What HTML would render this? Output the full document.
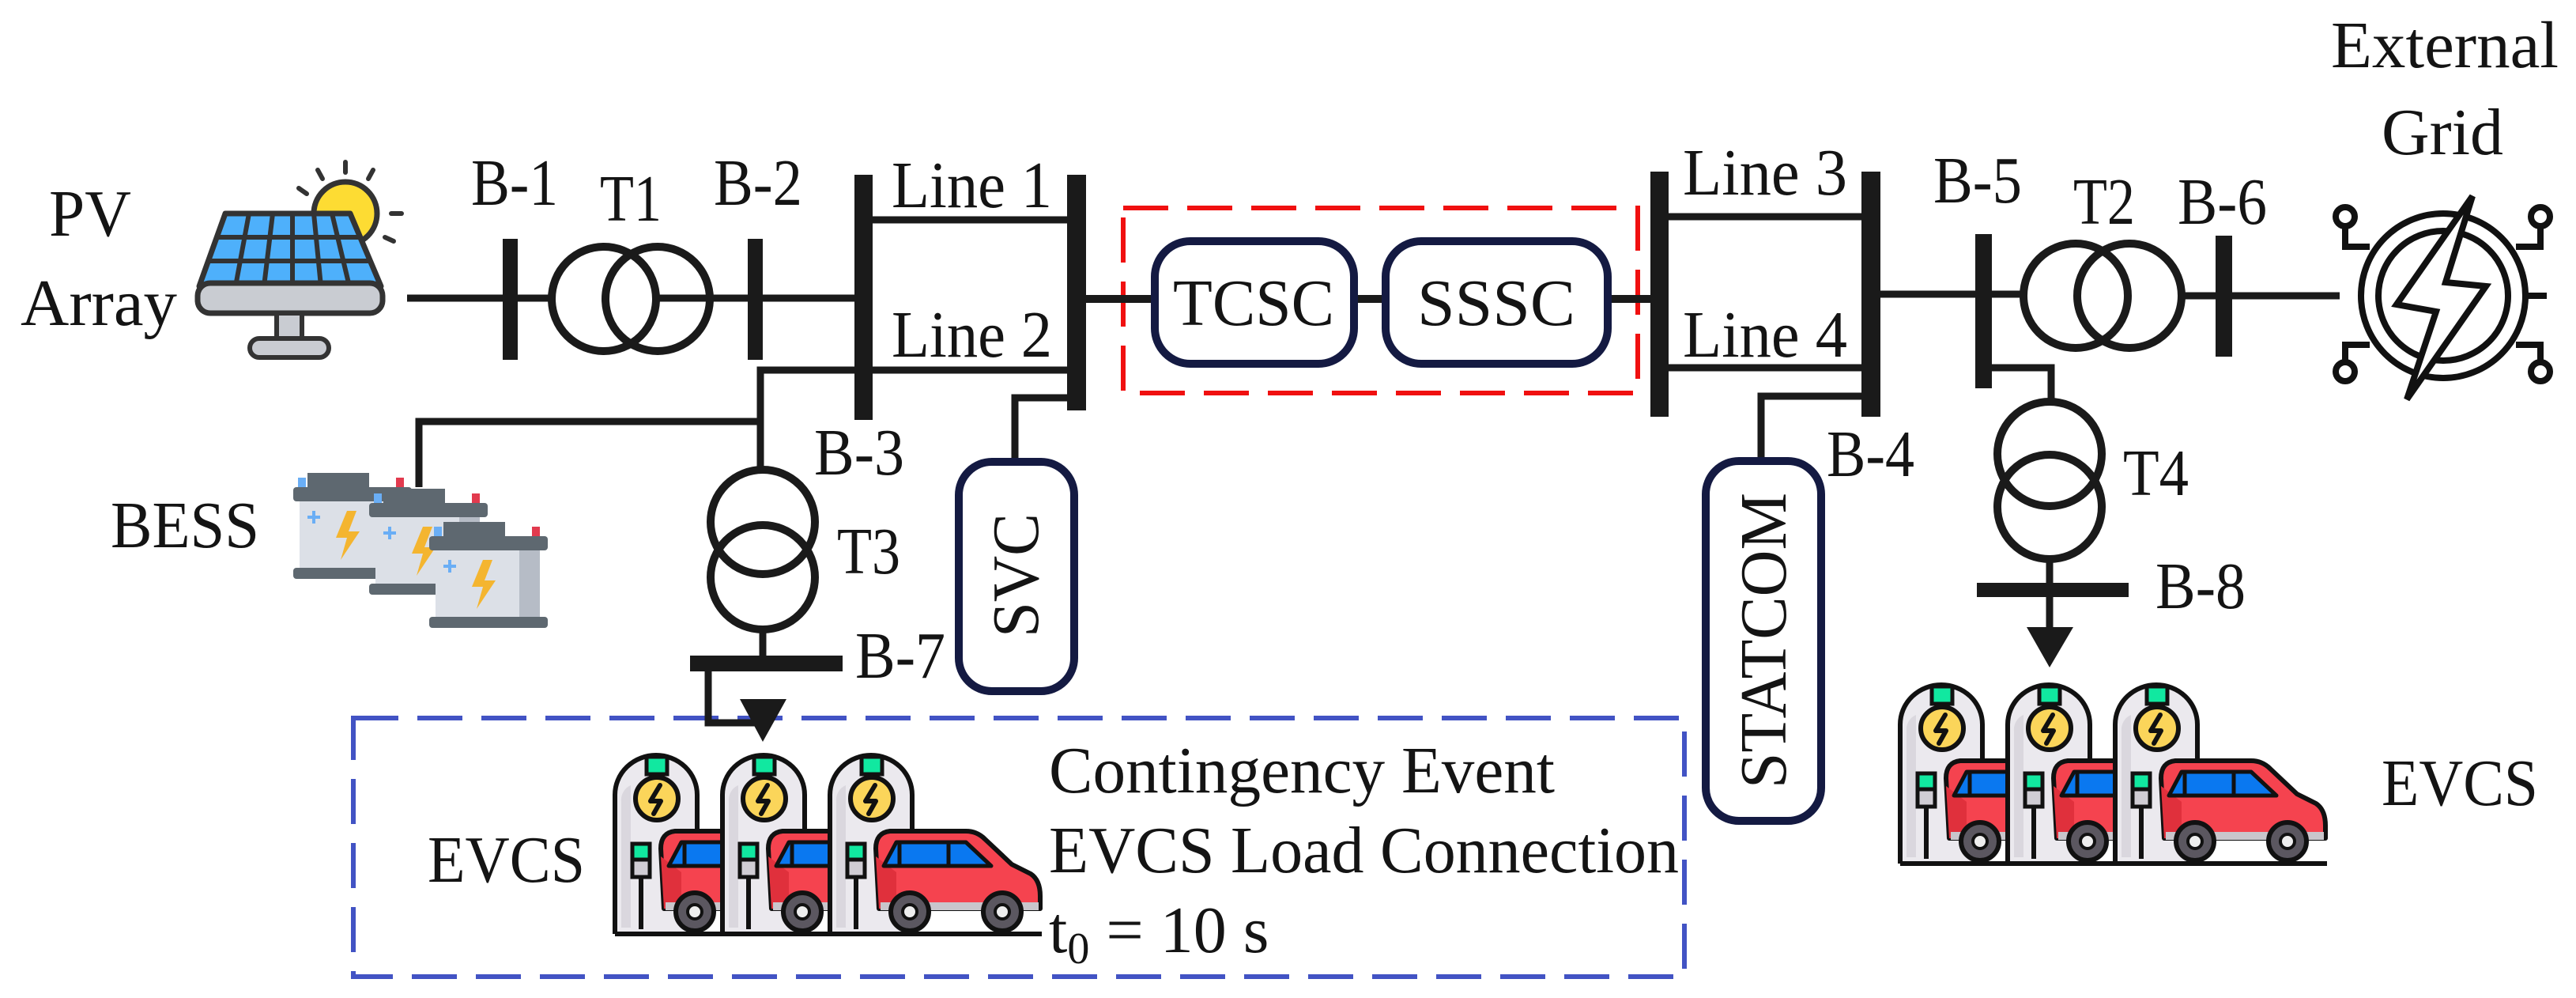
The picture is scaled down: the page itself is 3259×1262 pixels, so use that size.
<!DOCTYPE html>
<html><head><meta charset="utf-8"><style>
html,body{margin:0;padding:0;background:#fff;}
svg{display:block;}
text{font-family:"Liberation Serif","Noto Serif CJK SC","DejaVu Serif",serif;fill:#141414;font-size:84px;}
</style></head><body>
<svg width="3259" height="1262" viewBox="0 0 3259 1262" xmlns="http://www.w3.org/2000/svg">
<defs>
<g id="charger">
  <path d="M0,228 L0,52 A52,50 0 0 1 104,52 L104,228" fill="#ebe9ee" stroke="#111" stroke-width="6"/>
  <path d="M8,220 L8,60 A20,20 0 0 1 20,40 L20,220 Z" fill="#dad7de"/>
  <rect x="40" y="4" width="26" height="22" fill="#11e8a0" stroke="#111" stroke-width="5"/>
  <circle cx="53" cy="57" r="27" fill="#fbd55a" stroke="#111" stroke-width="6"/>
  <path d="M57,40 L45,60 L58,60 L49,76" fill="none" stroke="#111" stroke-width="6" stroke-linejoin="round" stroke-linecap="round"/>
  <rect x="22" y="114" width="22" height="20" fill="#11e8a0" stroke="#111" stroke-width="5"/>
  <rect x="22" y="134" width="22" height="22" fill="#d0cdd4" stroke="#111" stroke-width="5"/>
  <line x1="33" y1="156" x2="33" y2="222" stroke="#111" stroke-width="6"/>
  <rect x="64" y="114" width="20" height="20" fill="#11e8a0" stroke="#111" stroke-width="5"/>
</g>
<g id="car">
  <path d="M8,196 L4,120 Q4,100 22,98 L118,98 Q132,98 142,108 L176,140 L200,152 Q212,160 212,180 L212,196 Z" fill="#f5434f" stroke="#111" stroke-width="6" stroke-linejoin="round"/>
  <path d="M8,196 L4,130 L30,150 L30,196 Z" fill="#e0303c"/>
  <path d="M14,142 L30,112 L118,112 L150,142 Z" fill="#0a78f0" stroke="#111" stroke-width="5" stroke-linejoin="round"/>
  <line x1="34" y1="112" x2="34" y2="142" stroke="#111" stroke-width="5"/>
  <line x1="96" y1="112" x2="96" y2="142" stroke="#111" stroke-width="5"/>
  <rect x="10" y="188" width="200" height="10" fill="#c9c6cc"/>
  <circle cx="47" cy="200" r="24" fill="#5b5760" stroke="#111" stroke-width="6"/>
  <circle cx="47" cy="200" r="9" fill="#eee" stroke="#111" stroke-width="4"/>
  <circle cx="164" cy="200" r="24" fill="#5b5760" stroke="#111" stroke-width="6"/>
  <circle cx="164" cy="200" r="9" fill="#eee" stroke="#111" stroke-width="4"/>
</g>
<g id="evcs">
  <use href="#charger" x="0" y="0"/>
  <use href="#car" x="54" y="0"/>
  <use href="#charger" x="136" y="0"/>
  <use href="#car" x="190" y="0"/>
  <use href="#charger" x="272" y="0"/>
  <use href="#car" x="326" y="0"/>
  <line x1="0" y1="228" x2="540" y2="228" stroke="#111" stroke-width="6"/>
</g>
<g id="batt">
  <rect x="22" y="0" width="78" height="20" fill="#5e6870"/>
  <rect x="4" y="18" width="150" height="18" rx="4" fill="#5e6870"/>
  <rect x="12" y="36" width="132" height="88" fill="#dce0e7"/>
  <rect x="118" y="36" width="26" height="88" fill="#b6bcc6"/>
  <rect x="4" y="120" width="150" height="14" rx="4" fill="#5e6870"/>
  <rect x="10" y="6" width="10" height="12" fill="#6aaef5"/>
  <rect x="134" y="6" width="10" height="12" fill="#e23a4e"/>
  <path d="M72,48 L58,82 L72,82 L64,110 L88,74 L74,74 L84,48 Z" fill="#f4b530"/>
  <path d="M22,56 h16 M30,48 v16" stroke="#6aaef5" stroke-width="4"/>
</g>
</defs>

<g>
<text x="62" y="298" textLength="104" lengthAdjust="spacingAndGlyphs">PV</text>
<text x="26" y="411" textLength="198" lengthAdjust="spacingAndGlyphs">Array</text>
<text x="596" y="259" textLength="110" lengthAdjust="spacingAndGlyphs">B-1</text>
<text x="759" y="279" textLength="78" lengthAdjust="spacingAndGlyphs">T1</text>
<text x="903" y="259" textLength="112" lengthAdjust="spacingAndGlyphs">B-2</text>
<text x="1128" y="262" textLength="203" lengthAdjust="spacingAndGlyphs">Line 1</text>
<text x="1128" y="451" textLength="203" lengthAdjust="spacingAndGlyphs">Line 2</text>
<text x="2129" y="246" textLength="208" lengthAdjust="spacingAndGlyphs">Line 3</text>
<text x="2129" y="451" textLength="208" lengthAdjust="spacingAndGlyphs">Line 4</text>
<text x="1030" y="600" textLength="114" lengthAdjust="spacingAndGlyphs">B-3</text>
<text x="1059" y="725" textLength="80" lengthAdjust="spacingAndGlyphs">T3</text>
<text x="1082" y="857" textLength="114" lengthAdjust="spacingAndGlyphs">B-7</text>
<text x="140" y="692" textLength="188" lengthAdjust="spacingAndGlyphs">BESS</text>
<text x="541" y="1115" textLength="199" lengthAdjust="spacingAndGlyphs">EVCS</text>
<text x="1327" y="1002" textLength="640" lengthAdjust="spacingAndGlyphs">Contingency Event</text>
<text x="1327" y="1103" textLength="797" lengthAdjust="spacingAndGlyphs">EVCS Load Connection</text>
<text x="1327" y="1204">t<tspan font-size="56" dy="14">0</tspan><tspan dy="-14"> = 10 s</tspan></text>
<text x="2311" y="602" textLength="111" lengthAdjust="spacingAndGlyphs">B-4</text>
<text x="2446" y="256" textLength="112" lengthAdjust="spacingAndGlyphs">B-5</text>
<text x="2623" y="283" textLength="78" lengthAdjust="spacingAndGlyphs">T2</text>
<text x="2755" y="283" textLength="113" lengthAdjust="spacingAndGlyphs">B-6</text>
<text x="2949" y="85" textLength="288" lengthAdjust="spacingAndGlyphs">External</text>
<text x="3013" y="195" textLength="154" lengthAdjust="spacingAndGlyphs">Grid</text>
<text x="2686" y="626" textLength="83" lengthAdjust="spacingAndGlyphs">T4</text>
<text x="2727" y="769" textLength="114" lengthAdjust="spacingAndGlyphs">B-8</text>
<text x="3013" y="1018" textLength="198" lengthAdjust="spacingAndGlyphs">EVCS</text>
</g>

<rect x="1421" y="263" width="651" height="234" fill="none" stroke="#f01010" stroke-width="6" stroke-dasharray="57 24"/>
<rect x="447" y="908" width="1684" height="327" fill="none" stroke="#4253c4" stroke-width="6" stroke-dasharray="57 24"/>

<g stroke="#1a1a1a" fill="none">
  <line x1="515" y1="377" x2="1092" y2="377" stroke-width="9"/>
  <rect x="636" y="302" width="19" height="153" fill="#1a1a1a" stroke="none"/>
  <rect x="946" y="302" width="19" height="153" fill="#1a1a1a" stroke="none"/>
  <circle cx="764" cy="378" r="66" stroke-width="10" fill="#fff"/>
  <circle cx="832" cy="378" r="66" stroke-width="10" fill="none"/>
  <rect x="1081" y="221" width="23" height="310" fill="#1a1a1a" stroke="none"/>
  <rect x="1350" y="221" width="24" height="298" fill="#1a1a1a" stroke="none"/>
  <line x1="1104" y1="278" x2="1350" y2="278" stroke-width="9"/>
  <line x1="1104" y1="468" x2="1350" y2="468" stroke-width="9"/>
  <line x1="1374" y1="378" x2="1461" y2="378" stroke-width="10"/>
  <line x1="1713" y1="378" x2="1752" y2="378" stroke-width="10"/>
  <line x1="2034" y1="378" x2="2090" y2="378" stroke-width="10"/>
  <polyline points="1081,468 962,468 962,592" stroke-width="9"/>
  <polyline points="962,533 530,533 530,616" stroke-width="9"/>
  <circle cx="965" cy="660" r="66" stroke-width="10"/>
  <circle cx="965" cy="730" r="66" stroke-width="10"/>
  <line x1="965" y1="796" x2="965" y2="832" stroke-width="9"/>
  <rect x="873" y="829" width="193" height="20" fill="#1a1a1a" stroke="none"/>
  <polyline points="896,849 896,914 965,914" stroke-width="9"/>
  <polygon points="936,884 995,884 965,938" fill="#1a1a1a" stroke="none"/>
  <polyline points="1350,503 1284,503 1284,581" stroke-width="9"/>
  <rect x="2088" y="217" width="23" height="310" fill="#1a1a1a" stroke="none"/>
  <rect x="2355" y="217" width="24" height="310" fill="#1a1a1a" stroke="none"/>
  <line x1="2111" y1="274" x2="2355" y2="274" stroke-width="9"/>
  <line x1="2111" y1="465" x2="2355" y2="465" stroke-width="9"/>
  <polyline points="2355,501 2228,501 2228,580" stroke-width="9"/>
  <line x1="2379" y1="372" x2="2626" y2="372" stroke-width="9"/>
  <rect x="2499" y="296" width="21" height="195" fill="#1a1a1a" stroke="none"/>
  <circle cx="2626" cy="374" r="66" stroke-width="10" fill="#fff"/>
  <circle cx="2694" cy="374" r="66" stroke-width="10"/>
  <line x1="2760" y1="374" x2="2960" y2="374" stroke-width="9"/>
  <rect x="2803" y="298" width="21" height="153" fill="#1a1a1a" stroke="none"/>
  <polyline points="2520,465 2595,465 2595,506" stroke-width="9"/>
  <circle cx="2593" cy="574" r="66" stroke-width="10"/>
  <circle cx="2593" cy="641" r="66" stroke-width="10"/>
  <line x1="2593" y1="707" x2="2593" y2="740" stroke-width="9"/>
  <rect x="2501" y="737" width="192" height="18" fill="#1a1a1a" stroke="none"/>
  <line x1="2593" y1="755" x2="2593" y2="795" stroke-width="9"/>
  <polygon points="2564,793 2623,793 2593,844" fill="#1a1a1a" stroke="none"/>
</g>

<g fill="#fff" stroke="#141a42" stroke-width="10">
  <rect x="1461" y="305" width="252" height="155" rx="45"/>
  <rect x="1753" y="305" width="281" height="155" rx="45"/>
  <rect x="1213" y="584" width="146" height="290" rx="42"/>
  <rect x="2158" y="583" width="146" height="455" rx="42"/>
</g>
<text x="1484" y="411" textLength="204" lengthAdjust="spacingAndGlyphs">TCSC</text>
<text x="1793" y="411" textLength="200" lengthAdjust="spacingAndGlyphs">SSSC</text>
<text transform="translate(1313,806) rotate(-90)" textLength="157" lengthAdjust="spacingAndGlyphs">SVC</text>
<text transform="translate(2259,997) rotate(-90)" textLength="374" lengthAdjust="spacingAndGlyphs">STATCOM</text>

<g stroke="#111" stroke-width="8" fill="none">
  <circle cx="3091" cy="374" r="104"/>
  <circle cx="3091" cy="374" r="82"/>
  <circle cx="2967" cy="274" r="12"/>
  <polyline points="2967,286 2967,312 2998,312"/>
  <circle cx="3214" cy="274" r="12"/>
  <polyline points="3214,286 3214,312 3183,312"/>
  <circle cx="2967" cy="470" r="12"/>
  <polyline points="2967,458 2967,436 2998,436"/>
  <circle cx="3214" cy="470" r="12"/>
  <polyline points="3214,458 3214,436 3183,436"/>
  <line x1="3195" y1="374" x2="3222" y2="374"/>
  <path d="M3128,248 L3032,385 L3082,394 L3045,505 L3145,362 L3094,357 Z" fill="#fff" stroke-linejoin="miter"/>
</g>

<g>
  <circle cx="437" cy="270" r="40" fill="#fddc33" stroke="#333" stroke-width="7"/>
  <g stroke="#333" stroke-width="6" stroke-linecap="round">
    <line x1="437" y1="205" x2="437" y2="218"/><line x1="402" y1="215" x2="408" y2="226"/>
    <line x1="472" y1="215" x2="466" y2="226"/><line x1="378" y1="238" x2="388" y2="245"/>
    <line x1="495" y1="270" x2="508" y2="270"/><line x1="487" y1="300" x2="498" y2="305"/>
  </g>
  <path d="M285,270 L443,270 L482,362 L252,362 Z" fill="#4eb0fb" stroke="#333" stroke-width="7" stroke-linejoin="round"/>
  <g stroke="#333" stroke-width="6">
    <line x1="274" y1="300" x2="456" y2="300"/><line x1="264" y1="330" x2="468" y2="330"/>
    <line x1="315" y1="270" x2="298" y2="362"/><line x1="345" y1="270" x2="334" y2="362"/>
    <line x1="370" y1="270" x2="370" y2="362"/><line x1="397" y1="270" x2="406" y2="362"/>
    <line x1="420" y1="270" x2="442" y2="362"/>
  </g>
  <rect x="250" y="358" width="234" height="38" rx="16" fill="#c9ccd2" stroke="#333" stroke-width="7"/>
  <rect x="350" y="396" width="32" height="34" fill="#c9ccd2" stroke="#333" stroke-width="6"/>
  <rect x="316" y="428" width="100" height="24" rx="12" fill="#c9ccd2" stroke="#333" stroke-width="6"/>
</g>

<use href="#batt" x="367" y="598"/>
<use href="#batt" x="463" y="618"/>
<use href="#batt" x="539" y="660"/>

<use href="#evcs" x="778" y="953"/>
<use href="#evcs" x="2404" y="864"/>
</svg>
</body></html>
